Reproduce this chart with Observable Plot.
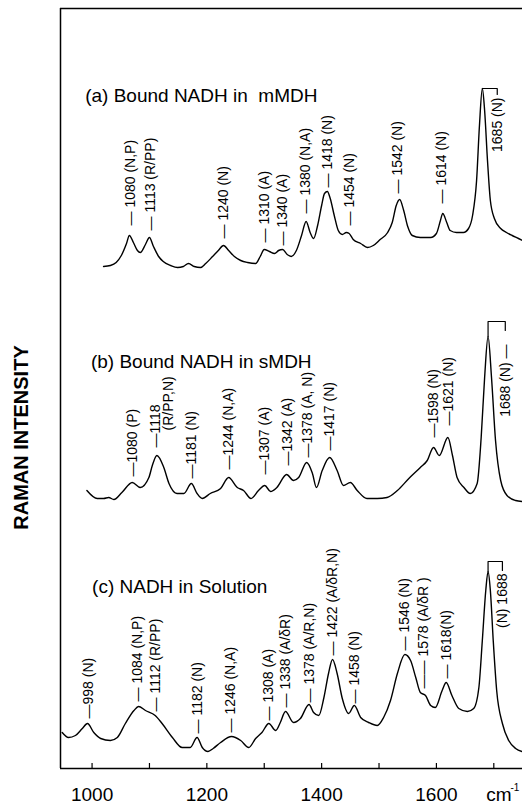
<!DOCTYPE html>
<html><head><meta charset="utf-8">
<script src="https://cdn.jsdelivr.net/npm/d3@7"></script>
<script src="https://cdn.jsdelivr.net/npm/@observablehq/plot@0.6"></script>
<style>body{margin:0;background:#fff}</style>
</head><body><div id="chart"></div>
<script>
// Raman spectra: [wavenumber cm-1, relative intensity]
const spectrumA = [[1020,22],[1032,23],[1042,26],[1051,33],[1060,45],[1065,53],[1072,46],[1079,38],[1084,36],[1093,44],[1100,51],[1107,42],[1116,32],[1124,27],[1137,23],[1149,21],[1159,22],[1168,25],[1178,22],[1189,21],[1198,25],[1210,32],[1220,38],[1229,43],[1238,38],[1248,32],[1259,28],[1271,26],[1285,25],[1293,32],[1300,39],[1309,37],[1318,35],[1325,38],[1332,39],[1340,34],[1347,32],[1356,38],[1365,53],[1373,67],[1380,56],[1386,50],[1393,63],[1400,83],[1405,95],[1410,97],[1415,90],[1422,73],[1429,58],[1436,54],[1443,56],[1448,55],[1455,49],[1468,45],[1480,41],[1490,43],[1502,49],[1515,56],[1523,66],[1530,83],[1536,89],[1543,78],[1550,62],[1558,53],[1572,51],[1590,51],[1600,55],[1607,68],[1611,75],[1618,66],[1624,58],[1635,56],[1647,56],[1656,60],[1663,73],[1670,108],[1675,163],[1680,200],[1684,178],[1689,128],[1694,88],[1701,70],[1712,60],[1722,56],[1732,53],[1743,50],[1750,48]];
const spectrumB = [[991,38],[1009,30],[1020,30],[1029,31],[1038,29],[1052,36],[1070,46],[1084,41],[1099,51],[1105,63],[1113,73],[1125,61],[1134,45],[1148,35],[1160,35],[1173,45],[1183,35],[1192,30],[1206,35],[1224,40],[1238,51],[1253,41],[1264,38],[1277,30],[1290,38],[1301,43],[1311,37],[1322,41],[1339,54],[1351,48],[1360,51],[1374,66],[1384,55],[1391,41],[1401,58],[1414,71],[1427,58],[1438,43],[1450,46],[1462,38],[1479,30],[1497,30],[1514,31],[1532,38],[1552,50],[1572,61],[1584,68],[1595,81],[1605,73],[1620,91],[1628,73],[1636,51],[1648,41],[1659,35],[1671,45],[1678,91],[1684,151],[1690,192],[1696,151],[1703,88],[1712,48],[1723,33],[1738,28],[1749,27]];
const spectrumC = [[948,36],[959,31],[971,33],[983,40],[992,45],[1003,36],[1015,30],[1032,28],[1044,31],[1058,45],[1073,58],[1081,62],[1093,58],[1110,53],[1122,45],[1140,31],[1157,21],[1171,21],[1183,31],[1192,21],[1202,17],[1211,20],[1224,26],[1243,32],[1259,28],[1273,21],[1285,30],[1296,36],[1308,45],[1320,38],[1328,46],[1337,57],[1351,46],[1363,50],[1378,64],[1386,56],[1395,53],[1404,71],[1412,95],[1419,109],[1427,95],[1436,70],[1447,55],[1457,63],[1468,51],[1482,46],[1497,43],[1508,51],[1520,68],[1532,95],[1545,114],[1555,108],[1564,91],[1572,76],[1581,73],[1590,63],[1598,61],[1610,78],[1617,86],[1627,73],[1639,60],[1654,57],[1665,60],[1674,81],[1680,128],[1686,178],[1690,197],[1694,178],[1699,128],[1705,78],[1715,45],[1726,28],[1738,20],[1749,17]];

// vertical stacking offsets of the three traces
const offsets = {a: 480, b: 240, c: 0};

// panel titles: [text, wavenumber, height, trace]
const titles = [
  ["(a) Bound NADH in  mMDH", 988, 193, "a"],
  ["(b) Bound NADH in sMDH", 998, 167, "b"],
  ["(c) NADH in Solution", 1000, 182, "c"]
];

// peak labels: [text, wavenumber, height]
const labelsA = [["— 1080 (N,P)",1067,63],["— 1113 (R/PP)",1102,58],["— 1240 (N)",1229,50],["— 1310 (A)",1300,46],["— 1340 (A)",1332,43],["— 1380 (N,A)",1372,75],["— 1418 (N)",1410,101],["— 1454 (N)",1449,63],["— 1542 (N)",1533,95],["— 1614 (N)",1609,85]];
const labelsB = [["—1080 (P)",1070,52],["—1118",1110,81],["(R/PP,N)",1134,98],["—1181 (N)",1174,50],["—1244 (N,A)",1238,59],["—1307 (A)",1300,54],["—1342 (A)",1340,63],["—1378 (A, N)",1375,71],["—1417 (N)",1414,78],["—1598 (N)",1595,91],["—1621 (N)",1621,103]];
const labelsC = [["—998 (N)",993,50],["— 1084 (N,P)",1080,67],["— 1112 (R/PP)",1110,57],["— 1182 (N)",1183,35],["— 1246 (N,A)",1242,36],["— 1308 (A)",1308,48],["— 1338 (A/δR)",1337,61],["— 1378 (A/R,N)",1379,66],["— 1422 (A/δR,N)",1419,113],["— 1458 (N)",1457,65],["— 1546 (N)",1545,118],["—— 1578 (A/δR )",1577,80],["— 1618(N)",1617,90]];

// bracketed main peak labels (hanging below the bracket)
const bracketLabels = [["1685 (N)",1706,191,"a"],["1688 (N) —",1720,184,"b"],["(N) 1688",1715,195,"c"]];
const bracketA = [[1680,200],[1706,200],[1706,194]];
const bracketB = [[1690,192],[1690,207],[1720,207],[1720,198]];
const bracketC = [[1690,197],[1690,207],[1715,207],[1715,198]];

const tickValues = [1000, 1200, 1400, 1600];
const minorTicks = [1000, 1100, 1200, 1300, 1400, 1500, 1600, 1700];
const yLabel = "RAMAN INTENSITY";
const unitLabel = "cm";
const unitExp = "-1";

const font = "'Liberation Sans', Arial, Helvetica, sans-serif";

const series = [["a", spectrumA], ["b", spectrumB], ["c", spectrumC]]
  .flatMap(([s, pts]) => pts.map(([x, v]) => ({s, x, y: v + offsets[s]})));
const brackets = [["a", bracketA], ["b", bracketB], ["c", bracketC]]
  .flatMap(([s, pts]) => pts.map(([x, v]) => ({s, x, y: v + offsets[s]})));
const peakLabels = [["a", labelsA], ["b", labelsB], ["c", labelsC]]
  .flatMap(([s, arr]) => arr.map(([t, x, v]) => ({t, x, y: v + offsets[s]})));

const chart = Plot.plot({
  width: 522, height: 804,
  marginLeft: 60, marginRight: 0, marginTop: 8, marginBottom: 36,
  x: {domain: [945, 1750]},
  y: {domain: [0, 760], axis: null},
  style: {fontFamily: font, background: "#fff", color: "#000", overflow: "visible"},
  marks: [
    Plot.ruleY([0, 760], {stroke: "#000", strokeWidth: 1.5}),
    Plot.ruleX([945], {stroke: "#000", strokeWidth: 1.5}),
    Plot.ruleX(minorTicks, {y1: 0, y2: 5, stroke: "#000", strokeWidth: 1.2}),
    Plot.axisX({ticks: tickValues, tickSize: 0, tickPadding: 19, fontSize: 19, label: null, tickFormat: d => String(d)}),
    Plot.line(series, {x: "x", y: "y", z: "s", stroke: "#000", strokeWidth: 1.4, curve: "monotone-x"}),
    Plot.line(brackets, {x: "x", y: "y", z: "s", stroke: "#000", strokeWidth: 1.2}),
    Plot.text(peakLabels, {x: "x", y: "y", text: "t", rotate: -90, textAnchor: "start", lineAnchor: "middle", fontSize: 14, fill: "#000"}),
    Plot.text(bracketLabels, {x: d => d[1], y: d => d[2] + offsets[d[3]], text: d => d[0], rotate: -90, textAnchor: "end", lineAnchor: "middle", fontSize: 14, fill: "#000"}),
    Plot.text(titles, {x: d => d[1], y: d => d[2] + offsets[d[3]], text: d => d[0], textAnchor: "start", lineAnchor: "middle", fontSize: 19, fill: "#000"}),
    Plot.text([yLabel], {frameAnchor: "left", y: [331], dx: -39, rotate: -90, textAnchor: "middle", lineAnchor: "middle", fontSize: 20, fontWeight: "bold", fill: "#000"}),
    Plot.text([unitLabel], {x: [1687], y: [-19], textAnchor: "start", lineAnchor: "top", fontSize: 19, fill: "#000"}),
    Plot.text([unitExp], {x: [1729], y: [-15], textAnchor: "start", lineAnchor: "top", fontSize: 10, fill: "#000"})
  ]
});
document.getElementById("chart").appendChild(chart);
</script>
</body></html>
